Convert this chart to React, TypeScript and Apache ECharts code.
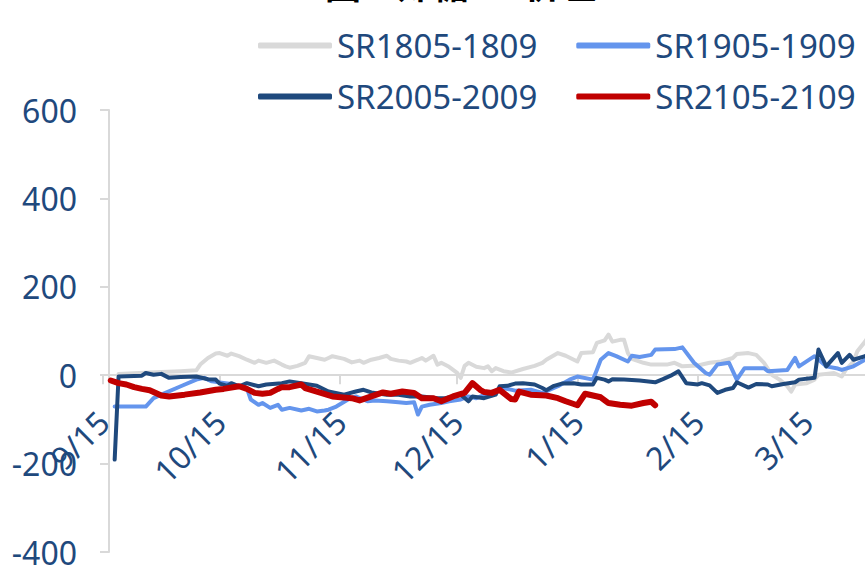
import React, { useEffect, useRef } from "react";
import * as echarts from "echarts";

// Calendar-day category axis (9/15 .. 3/31)
const axisMonths = [9, 10, 11, 12, 1, 2, 3];
const monthLengths = [30, 31, 30, 31, 31, 28, 31];
const firstDay = 15;
const days: string[] = [];
axisMonths.forEach((m, i) => {
  for (let d = i === 0 ? firstDay : 1; d <= monthLengths[i]; d++) days.push(`${m}/${d}`);
});

const tickLabels = ["9/15", "10/15", "11/15", "12/15", "1/15", "2/15", "3/15"];
const yTicks = [-400, -200, 0, 200, 400, 600];

const seriesNames = ["SR1805-1809", "SR1905-1909", "SR2005-2009", "SR2105-2109"];

const sr1805: [string, number][] = [
  ["9/19", 3], ["9/27", 6], ["9/30", 7], ["10/5", 9], ["10/9", 11], ["10/10", 24], ["10/12", 39],
  ["10/14", 49], ["10/15", 50], ["10/17", 44], ["10/18", 49], ["10/20", 43], ["10/22", 35],
  ["10/24", 28], ["10/25", 33], ["10/27", 28], ["10/29", 33], ["10/31", 24], ["11/1", 20],
  ["11/2", 17], ["11/4", 21], ["11/6", 28], ["11/7", 43], ["11/9", 39], ["11/11", 35],
  ["11/12", 39], ["11/13", 43], ["11/16", 37], ["11/18", 29], ["11/20", 33], ["11/21", 28],
  ["11/23", 35], ["11/25", 39], ["11/27", 44], ["11/28", 37], ["11/30", 33], ["12/2", 31],
  ["12/3", 28], ["12/5", 35], ["12/6", 39], ["12/7", 33], ["12/9", 44], ["12/10", 24],
  ["12/11", 28], ["12/13", 19], ["12/15", 6], ["12/16", -6], ["12/17", 21], ["12/18", 28],
  ["12/20", 19], ["12/22", 16], ["12/23", 20], ["12/24", 9], ["12/25", 16], ["12/27", 9],
  ["12/29", 6], ["1/1", 14], ["1/4", 21], ["1/6", 28], ["1/7", 35], ["1/10", 50], ["1/12", 44],
  ["1/15", 31], ["1/16", 50], ["1/19", 52], ["1/20", 73], ["1/22", 79], ["1/23", 92],
  ["1/24", 76], ["1/26", 80], ["1/27", 80], ["1/28", 50], ["1/29", 37], ["2/1", 28],
  ["2/3", 24], ["2/7", 24], ["2/9", 28], ["2/11", 20], ["2/15", 22], ["2/18", 28], ["2/21", 31],
  ["2/24", 39], ["2/25", 48], ["2/28", 50], ["3/2", 46], ["3/4", 28], ["3/6", 1], ["3/8", -10],
  ["3/10", -25], ["3/11", -37], ["3/12", -21], ["3/15", -18], ["3/17", -10], ["3/18", 1],
  ["3/20", 3], ["3/22", 5], ["3/24", -3], ["3/25", 12], ["3/27", 31], ["3/28", 54],
  ["3/30", 76], ["3/31", 90],
];

const sr1905: [string, number][] = [
  ["9/18", -71], ["9/26", -71], ["9/28", -52], ["9/30", -44], ["10/5", -25], ["10/9", -10],
  ["10/11", -6], ["10/13", -14], ["10/18", -20], ["10/20", -25], ["10/22", -29], ["10/23", -55],
  ["10/25", -67], ["10/26", -63], ["10/28", -74], ["10/30", -67], ["10/31", -78], ["11/2", -74],
  ["11/5", -80], ["11/7", -76], ["11/9", -82], ["11/11", -80], ["11/12", -78], ["11/14", -71],
  ["11/17", -55], ["11/19", -48], ["11/22", -59], ["11/24", -57], ["11/27", -59], ["11/30", -61],
  ["12/2", -63], ["12/4", -61], ["12/5", -89], ["12/6", -71], ["12/8", -67], ["12/11", -63],
  ["12/13", -59], ["12/16", -55], ["12/18", -48], ["12/20", -52], ["12/22", -45], ["12/24", -38],
  ["12/27", -29], ["12/30", -35], ["1/3", -33], ["1/6", -40], ["1/10", -25], ["1/13", -10],
  ["1/15", -3], ["1/19", -10], ["1/20", 12], ["1/21", 35], ["1/23", 50], ["1/25", 43],
  ["1/28", 31], ["1/29", 44], ["1/31", 41], ["2/3", 46], ["2/4", 58], ["2/9", 59], ["2/11", 63],
  ["2/14", 28], ["2/17", 5], ["2/18", 1], ["2/20", 24], ["2/23", 28], ["2/25", -10],
  ["2/27", 16], ["3/4", 16], ["3/5", 9], ["3/10", 12], ["3/12", 39], ["3/13", 20], ["3/17", 43],
  ["3/20", 20], ["3/23", 15], ["3/24", 12], ["3/27", 20], ["3/30", 35], ["3/31", 40],
];

const sr2005: [string, number][] = [
  ["9/18", -191], ["9/19", -3], ["9/25", -1], ["9/26", 5], ["9/28", 1], ["9/30", 3],
  ["10/2", -6], ["10/5", -4], ["10/9", -3], ["10/12", -9], ["10/14", -10], ["10/15", -19],
  ["10/17", -24], ["10/18", -18], ["10/20", -25], ["10/22", -18], ["10/25", -25], ["10/27", -21],
  ["10/31", -18], ["11/2", -14], ["11/5", -18], ["11/9", -24], ["11/12", -37], ["11/16", -44],
  ["11/19", -37], ["11/21", -33], ["11/23", -39], ["11/27", -44], ["11/30", -44], ["12/3", -48],
  ["12/6", -48], ["12/10", -52], ["12/12", -52], ["12/16", -44], ["12/18", -59], ["12/19", -48],
  ["12/22", -52], ["12/25", -44], ["12/26", -25], ["12/28", -24], ["12/30", -19], ["1/1", -18],
  ["1/4", -21], ["1/6", -29], ["1/7", -34], ["1/9", -24], ["1/11", -19], ["1/14", -18],
  ["1/16", -21], ["1/19", -21], ["1/20", -6], ["1/22", -10], ["1/23", -14], ["1/24", -9],
  ["1/27", -10], ["1/31", -12], ["2/4", -16], ["2/6", -9], ["2/8", -1], ["2/10", 9],
  ["2/12", -18], ["2/15", -21], ["2/16", -18], ["2/18", -23], ["2/20", -40], ["2/22", -33],
  ["2/24", -29], ["2/25", -16], ["2/28", -28], ["3/2", -20], ["3/5", -21], ["3/6", -25],
  ["3/9", -20], ["3/12", -16], ["3/13", -10], ["3/17", -6], ["3/18", 58], ["3/20", 20],
  ["3/23", 50], ["3/24", 28], ["3/26", 46], ["3/27", 35], ["3/30", 43], ["3/31", 48],
];

const sr2105: [string, number][] = [
  ["9/17", -12], ["9/19", -18], ["9/21", -21], ["9/23", -27], ["9/25", -31], ["9/27", -34],
  ["9/30", -46], ["10/2", -48], ["10/6", -44], ["10/10", -39], ["10/14", -33], ["10/16", -31],
  ["10/20", -25], ["10/22", -31], ["10/24", -40], ["10/26", -42], ["10/28", -40], ["10/30", -31],
  ["10/31", -27], ["11/2", -27], ["11/5", -21], ["11/6", -29], ["11/9", -37], ["11/13", -48],
  ["11/18", -52], ["11/20", -57], ["11/23", -48], ["11/26", -39], ["11/28", -42], ["12/1", -37],
  ["12/4", -40], ["12/6", -52], ["12/9", -52], ["12/11", -59], ["12/14", -48], ["12/17", -40],
  ["12/19", -18], ["12/21", -33], ["12/22", -38], ["12/24", -40], ["12/26", -33], ["12/29", -54],
  ["12/30", -55], ["12/31", -37], ["1/3", -44], ["1/7", -46], ["1/10", -52], ["1/12", -59],
  ["1/15", -68], ["1/17", -42], ["1/21", -50], ["1/23", -63], ["1/26", -67], ["1/29", -69],
  ["2/1", -63], ["2/3", -60], ["2/4", -68],
];

const seriesData = [sr1805, sr1905, sr2005, sr2105];
const seriesColors = ["#D9D9D9", "#6495ED", "#1F497D", "#C00000"];
const seriesWidths = [4, 4, 4, 6];

const textColor = "#1F497D";
const axisGray = "#D9D9D9";
const font = "'Noto Sans', sans-serif";

const GRID_LEFT = 103;
const GRID_RIGHT = -4;
const GRID_TOP = 110;
const GRID_BOTTOM = 16;

export default function App() {
  const ref = useRef<HTMLDivElement>(null);
  useEffect(() => {
    if (!ref.current) return;
    const chart = echarts.init(ref.current, null, { renderer: "svg" });
    const yMin = yTicks[0];
    const yMax = yTicks[yTicks.length - 1];
    const plotH = 568 - GRID_TOP - GRID_BOTTOM;
    // grid 1 ends exactly where the value 0 lies in grid 0, so its x axis sits on zero
    const zeroBottom = GRID_BOTTOM + (plotH * (0 - yMin)) / (yMax - yMin);
    const isTick = (_i: number, v: string) => tickLabels.includes(v);
    const legendCommon = {
      left: 258,
      padding: 0,
      width: 700,
      itemWidth: 74,
      itemHeight: 6,
      itemGap: 39,
      icon: "roundRect",
      textStyle: { color: textColor, fontSize: 33, fontFamily: font, width: 203 },
      selectedMode: false,
    };
    chart.setOption({
      animation: false,
      graphic: [
        {
          type: "text",
          x: 325,
          y: -35,
          style: { text: "图：郑糖5-9价差", fontSize: 36, fontFamily: "'Noto Sans CJK SC', sans-serif", fill: "#000", fontWeight: "bold" },
        },
      ],
      legend: [
        { ...legendCommon, top: 29, data: [seriesNames[0], seriesNames[1]] },
        { ...legendCommon, top: 80, data: [seriesNames[2], seriesNames[3]] },
      ],
      grid: [
        { left: GRID_LEFT, right: GRID_RIGHT, top: GRID_TOP, bottom: GRID_BOTTOM, containLabel: false, outerBoundsMode: "none" },
        { left: GRID_LEFT, right: GRID_RIGHT, top: GRID_TOP, bottom: zeroBottom, containLabel: false, outerBoundsMode: "none" },
      ],
      xAxis: [
        {
          type: "category",
          gridIndex: 0,
          data: days,
          boundaryGap: false,
          axisLine: { show: false },
          axisTick: { show: false },
          axisLabel: { show: false },
          splitLine: { show: false },
        },
        {
          type: "category",
          gridIndex: 1,
          data: days,
          boundaryGap: false,
          axisLine: { show: true, onZero: false, lineStyle: { color: axisGray, width: 2 } },
          axisTick: { show: true, length: 9, interval: isTick, lineStyle: { color: axisGray, width: 2 } },
          axisLabel: {
            interval: isTick,
            rotate: 45,
            margin: 41,
            color: textColor,
            fontSize: 32,
            fontFamily: font,
          },
          splitLine: { show: false },
        },
      ],
      yAxis: [
        {
          type: "value",
          gridIndex: 0,
          min: yMin,
          max: yMax,
          interval: 200,
          offset: -6,
          axisLine: { show: true, lineStyle: { color: axisGray, width: 2 } },
          axisTick: { show: true, length: 9, lineStyle: { color: axisGray, width: 2 } },
          axisLabel: { margin: 32, color: textColor, fontSize: 32, fontFamily: font },
          splitLine: { show: false },
        },
        {
          type: "value",
          gridIndex: 1,
          min: 0,
          max: 1,
          show: false,
          splitLine: { show: false },
        },
      ],
      series: seriesNames.map((name, i) => ({
        name,
        type: "line",
        xAxisIndex: 0,
        yAxisIndex: 0,
        data: seriesData[i],
        showSymbol: false,
        symbol: "none",
        z: 2 + i,
        lineStyle: { color: seriesColors[i], width: seriesWidths[i], join: "round", cap: "round" },
        itemStyle: { color: seriesColors[i] },
      })),
    });
    return () => chart.dispose();
  }, []);
  return (
    <div
      ref={ref}
      style={{ position: "absolute", left: 0, top: 0, width: 865, height: 568, overflow: "hidden" }}
    />
  );
}
